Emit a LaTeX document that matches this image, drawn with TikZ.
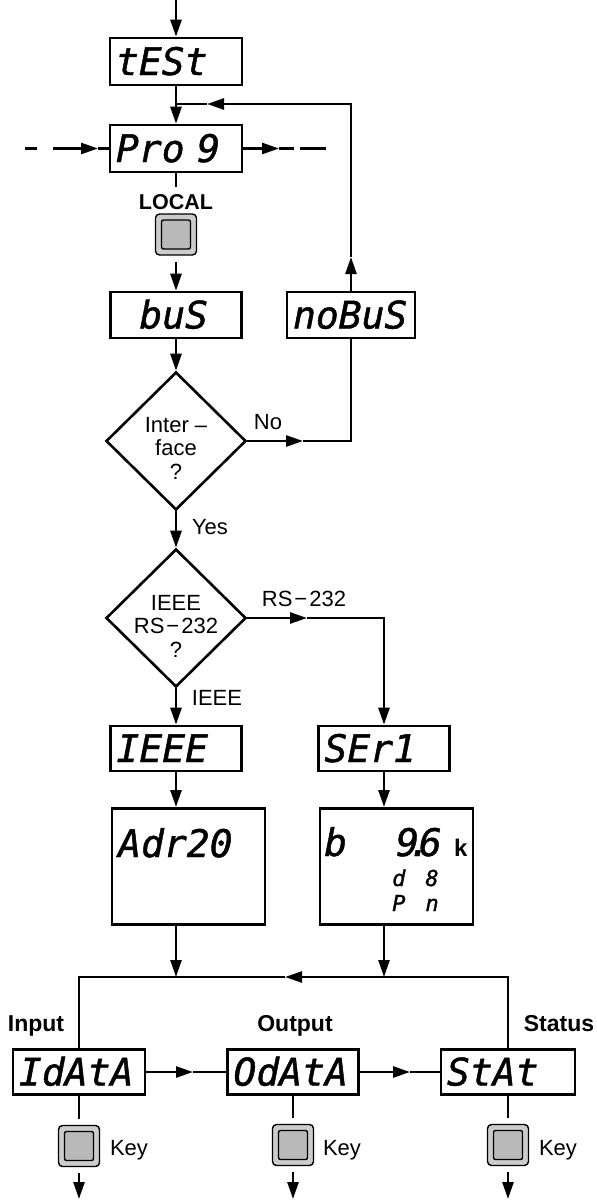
\documentclass[tikz,border=0pt]{standalone}
\usepackage{fontspec}
\setmainfont{Liberation Sans}
\newfontfamily\segfont{DejaVu Sans Mono}[ItalicFeatures={FakeBold=1.2}]
\usetikzlibrary{arrows.meta,shapes.geometric}
\begin{document}
\begin{tikzpicture}[x=1pt,y=-1pt,
  ln/.style={line width=2.6pt},
  arr/.style={ln,-{Triangle[length=17pt,width=11pt]}},
  segf/.style={font=\segfont\itshape\fontsize{38}{38}\selectfont},
  disp/.style={draw, line width=2.6pt, inner xsep=6pt, inner ysep=0pt, align=left, segf, text height=27pt, text depth=0pt},
  segtxt/.style={segf, inner sep=0pt},
  segsmall/.style={font=\segfont\itshape\fontsize{22}{22}\selectfont, inner sep=0pt},
  tallbox/.style={draw, line width=2.6pt, minimum width=153pt, minimum height=116pt, anchor=north west, inner sep=0pt},
  diam/.style={diamond, draw, line width=2.6pt, minimum width=140pt, minimum height=138pt, inner sep=0pt},
  lbl/.style={font=\fontsize{22}{23.5}\selectfont, inner sep=0pt},
  blbl/.style={font=\bfseries\fontsize{23}{26}\selectfont, inner sep=0pt},
  keybtn/.style={draw, line width=1.4pt, rounded corners=4pt, minimum width=41pt, minimum height=41pt, fill=gray!40,
    path picture={\draw[line width=1.4pt, fill=gray!55, rounded corners=2pt]
      ([shift={(6pt,6pt)}]path picture bounding box.south west) rectangle
      ([shift={(-6pt,-6pt)}]path picture bounding box.north east);}},
]
\fill[white] (0,0) rectangle (597,1200);
\useasboundingbox (0,0) rectangle (597,1200);

% display boxes
\node[disp, text width=120pt, minimum height=47pt] (test) at (176,61.5) {tESt};
\node[disp, text width=120pt, minimum height=47pt] (prog) at (176,148.5) {Pro 9};
\node[font=\bfseries\fontsize{21.5}{24}\selectfont, inner sep=0pt] (local) at (176,202) {LOCAL};
\node[keybtn] (lkey) at (176,234.5) {};
\node[disp, text width=119pt, minimum height=46pt] (bus) at (176,315) {\phantom{b}buS};
\node[disp, text width=116pt, minimum height=46pt] (nobus) at (351,315) {noBuS};

\node[diam, label={[lbl, align=center, yshift=-7pt]center:{Inter –\\face\\?}}] (d1) at (176,441) {};
\node[diam, label={[lbl, align=center, yshift=-8pt]center:{IEEE\\RS\kern2pt−\kern2pt232\\?}}] (d2) at (176,618) {};

\node[lbl] (nolbl) at (268,422) {No};
\node[lbl] (yeslbl) at (210,527) {Yes};
\node[lbl] (rslbl) at (304,599) {RS\kern2pt−\kern2pt232};
\node[lbl] (ieeelbl) at (217,698) {IEEE};

\node[disp, text width=119pt, minimum height=45pt] (ieee) at (176,748.5) {IEEE};
\node[disp, text width=119pt, minimum height=45pt] (ser) at (384,748.5) {SEr1};

\node[tallbox] (adr) at (110.5,807) {};
\node[tallbox] (bbox) at (318.5,807) {};
\node[segtxt, anchor=base west] (adrtxt) at (118,857) {Adr20};
\node[segtxt, anchor=base west] (btxt) at (324,856) {b};
\node[segtxt, anchor=base west] (bval) at (396,856) {9\kern-11pt.\kern-12pt6};
\node[font=\bfseries\fontsize{24}{24}\selectfont, inner sep=0pt, anchor=base west] (bk) at (454,856) {k};
\node[segsmall, anchor=base west] (bd) at (392,886) {d\kern20pt8};
\node[segsmall, anchor=base west] (bp) at (392,911) {P\kern20pt n};

\node[disp, text width=120pt, minimum height=45pt] (idata) at (79,1072) {IdAtA};
\node[disp, text width=119pt, minimum height=45pt] (odata) at (293,1072) {OdAtA};
\node[disp, text width=122pt, minimum height=45pt] (stat) at (508,1072) {StAt};

\node[blbl] (inlbl) at (36,1026) {Input};
\node[blbl] (outlbl) at (295,1026) {Output};
\node[blbl] (stlbl) at (559,1024) {Status};

\node[keybtn] (k1) at (79,1146) {};
\node[keybtn] (k2) at (293,1145) {};
\node[keybtn] (k3) at (508,1145) {};
\node[lbl] (kl1) at (129,1150) {Key};
\node[lbl] (kl2) at (342,1150) {Key};
\node[lbl] (kl3) at (558,1150) {Key};

% coordinates
\coordinate (top) at (176,0);
\coordinate (j1) at (176,104);
\coordinate (j1a) at (207,104);
\coordinate (nb1) at (351,257);
\coordinate (dl) at (25,148.5);
\coordinate (dlt) at (98,148.5);
\coordinate (drt) at (279,148.5);
\coordinate (dr) at (326,148.5);
\coordinate (nom) at (303,441);
\coordinate (rsm) at (307,618);
\coordinate (busm) at (285,977);
\coordinate (ao1) at (193,1072);
\coordinate (ao2) at (410,1072);
\coordinate (e1) at (79,1199);
\coordinate (e2) at (293,1199);
\coordinate (e3) at (508,1199);

% connectors
\draw[arr] (top) -- (test.north);
\draw[arr] (test.south) -- (prog.north);
\draw[arr] (nobus.north) -- (nb1);
\draw[arr] (nb1) |- (j1a);
\draw[ln] (j1a) -- (j1);
\draw[arr, dash pattern=on 12pt off 16pt on 200pt] (dl) -- (dlt);
\draw[ln] (dlt) -- (prog.west);
\draw[arr] (prog.east) -- (drt);
\draw[ln, dash pattern=on 15pt off 6pt on 26pt off 100pt] (drt) -- (dr);
\draw[ln, shorten >=7pt] (prog.south) -- (local.north);
\draw[arr, shorten <=6pt] (lkey.south) -- (bus.north);
\draw[arr] (bus.south) -- (d1.north);
\draw[arr] (d1.east) -- (nom);
\draw[ln] (nom) -| (nobus.south);
\draw[arr] (d1.south) -- (d2.north);
\draw[arr] (d2.east) -- (rsm);
\draw[arr] (rsm) -| (ser.north);
\draw[arr] (d2.south) -- (ieee.north);
\draw[arr] (ieee.south) -- (ieee.south |- adr.north);
\draw[arr] (ser.south) -- (ser.south |- bbox.north);
\draw[arr] (ieee.south |- adr.south) -- (ieee.south |- busm);
\draw[arr] (ser.south |- bbox.south) -- (ser.south |- busm);
\draw[arr] (stat.north) |- (busm);
\draw[ln] (busm) -| (idata.north);
\draw[arr] (idata.east) -- (ao1);
\draw[ln] (ao1) -- (odata.west);
\draw[arr] (odata.east) -- (ao2);
\draw[ln] (ao2) -- (stat.west);
\draw[ln, shorten >=6pt] (idata.south) -- (k1.north);
\draw[ln, shorten >=6pt] (odata.south) -- (k2.north);
\draw[ln, shorten >=6pt] (stat.south) -- (k3.north);
\draw[arr, shorten <=6pt] (k1.south) -- (e1);
\draw[arr, shorten <=6pt] (k2.south) -- (e2);
\draw[arr, shorten <=6pt] (k3.south) -- (e3);
\end{tikzpicture}
\end{document}
